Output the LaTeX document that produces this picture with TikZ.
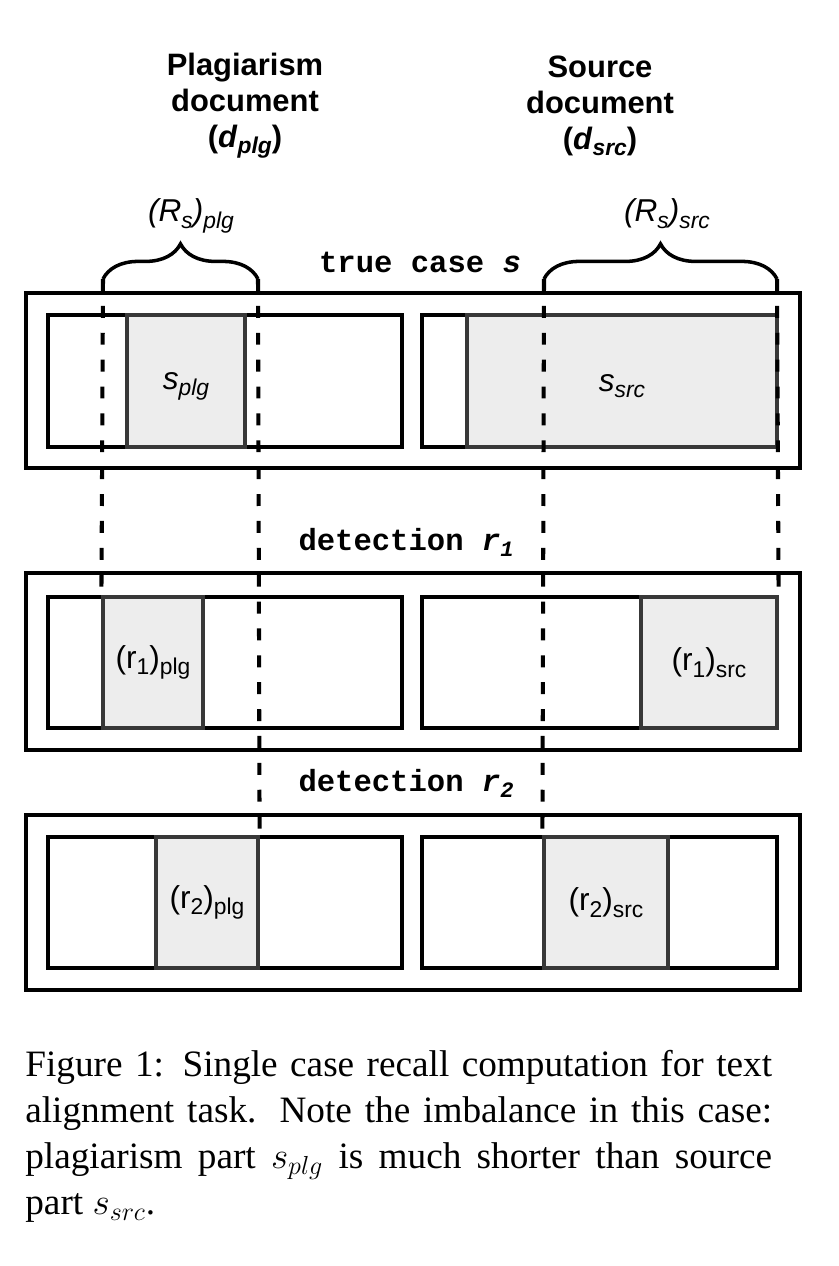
\RequirePackage{fix-cm}
\documentclass[tikz,border=0pt]{standalone}
\usepackage{fontspec}
\setmainfont{Liberation Serif}
\setsansfont{Liberation Sans}
\setmonofont{Liberation Mono}
\usetikzlibrary{fit,decorations.pathreplacing}

\newcommand\subtxt[1]{\raisebox{-0.4ex}{\fontsize{13}{13}\selectfont #1}}
\newcommand\subtt[1]{\raisebox{-0.4ex}{\fontsize{12.5}{13}\selectfont #1}}

\begin{document}
\begin{tikzpicture}[x=0.02cm,y=-0.02cm,
		doc box/.style={draw,line width=2.2pt,inner sep=0pt},
		part box/.style={draw=black!78,fill=black!7,line width=1.8pt,inner sep=0pt},
		span line/.style={line width=2.3pt,dash pattern=on 6.8pt off 8.5pt},
		brace line/.style={line width=2pt,decorate,decoration={brace,amplitude=20pt}},
		head/.style={font=\fontsize{17.6}{20.3}\selectfont\sffamily\bfseries,align=center},
		part label/.style={font=\fontsize{18}{20}\selectfont\sffamily},
		case label/.style={font=\fontsize{17.4}{20}\selectfont\ttfamily\bfseries,anchor=base}]

		\useasboundingbox (0,0) rectangle (838,1266);

		% true case s
		\node[doc box, fit={(26,293) (800,468)}] (caseRow) {};
		\node[doc box, fit={(48,315) (402,447)}] (casePlg) {};
		\node[doc box, fit={(422,315) (777,447)}] (caseSrc) {};
		\node[part box, fit={(127,315) (245,447)}] (sPlg) {};
		\node[part box, fit={(467,315) (777,447)}] (sSrc) {};

		% detection r1
		\node[doc box, fit={(26,573) (800,750)}] (oneRow) {};
		\node[doc box, fit={(48,597) (402,728)}] (onePlg) {};
		\node[doc box, fit={(422,597) (777,728)}] (oneSrc) {};
		\node[part box, fit={(103,597) (203,728)}] (rOnePlg) {};
		\node[part box, fit={(641,597) (777,728)}] (rOneSrc) {};

		% detection r2
		\node[doc box, fit={(26,815) (800,990)}] (twoRow) {};
		\node[doc box, fit={(48,837) (402,968)}] (twoPlg) {};
		\node[doc box, fit={(422,837) (777,968)}] (twoSrc) {};
		\node[part box, fit={(156,837) (258,968)}] (rTwoPlg) {};
		\node[part box, fit={(544,837) (668,968)}] (rTwoSrc) {};

		% braces and span lines
		\coordinate (plgL) at (103,279);
		\coordinate (plgR) at (258,279);
		\coordinate (srcL) at (544,279);
		\coordinate (srcR) at (777,279);
		\draw[brace line] (plgL) -- (plgR);
		\draw[brace line] (srcL) -- (srcR);
		\draw[span line] (plgL) -- (rOnePlg.north west);
		\draw[span line] (plgR) -- (rTwoPlg.north east);
		\draw[span line] (srcL) -- (rTwoSrc.north west);
		\draw[span line] (srcR) -- (rOneSrc.north east);

		% texts
		\node[head] (plgHead) at (245,106) {Plagiarism\\document\\(\textit{d}\subtxt{\textit{plg}})};
		\node[head] (srcHead) at (600,106) {Source\\document\\(\textit{d}\subtxt{\textit{src}})};
		\node[part label, anchor=base] (rsPlg) at (191,222) {\textit{(R\subtxt{s})\subtxt{plg}}};
		\node[part label, anchor=base] (rsSrc) at (667,222) {\textit{(R\subtxt{s})\subtxt{src}}};
		\node[case label] (caseText) at (420,273) {true case \textit{s}};
		\node[case label] (oneText) at (406,550) {detection \textit{r}\subtt{\textit{1}}};
		\node[case label] (twoText) at (406,791) {detection \textit{r}\subtt{\textit{2}}};

		\node[part label] at ([yshift=-3]sPlg) {\textit{s\subtxt{plg}}};
		\node[part label] at ([yshift=-3]sSrc) {\textit{s\subtxt{src}}};
		\node[part label] at (rOnePlg) {(r\subtxt{1})\subtxt{plg}};
		\node[part label] at (rOneSrc) {(r\subtxt{1})\subtxt{src}};
		\node[part label] at (rTwoPlg) {(r\subtxt{2})\subtxt{plg}};
		\node[part label] at (rTwoSrc) {(r\subtxt{2})\subtxt{src}};

		% caption
		\node[anchor=north west, text width=425pt, align=justify, inner sep=0pt,
			font=\fontsize{21.2}{26.2}\selectfont] (caption) at (25,1050)
			{Figure 1: Single case recall computation for text\linebreak
			alignment task.  Note the imbalance in this case:\linebreak
			plagiarism part $s_{plg}$ is much shorter than source\linebreak
			part $s_{src}$.};
\end{tikzpicture}
\end{document}
